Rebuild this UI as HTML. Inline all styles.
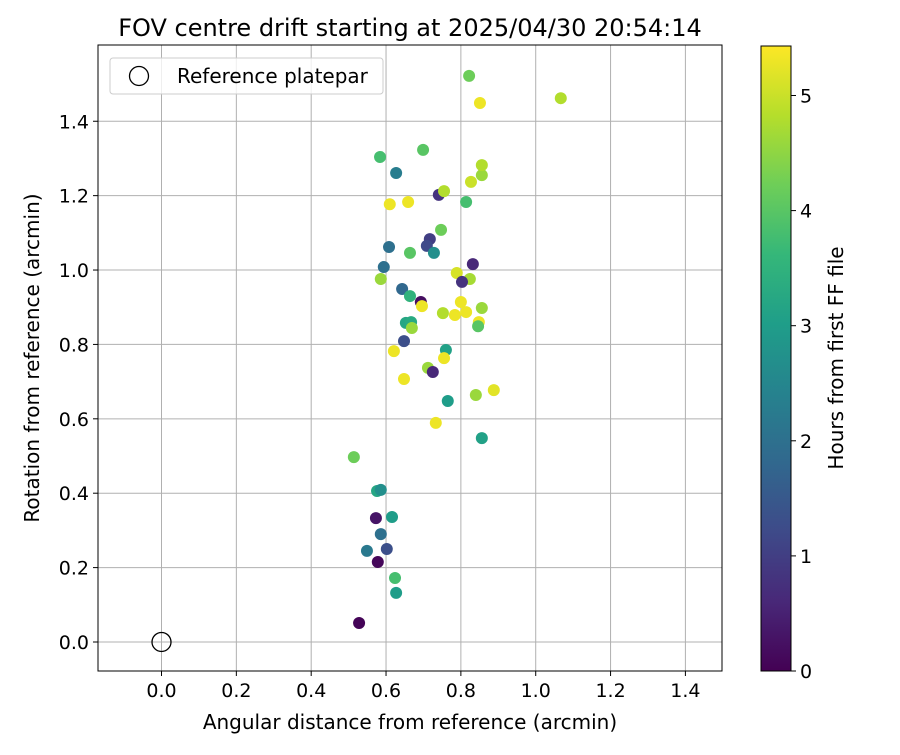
<!DOCTYPE html>
<html><head><meta charset="utf-8">
<style>
body{margin:0;background:#fff;font-family:"Liberation Sans","DejaVu Sans",sans-serif;}
svg text{font-family:"DejaVu Sans","Liberation Sans",sans-serif;}
</style></head>
<body>
<svg id="chart" width="900" height="750" xmlns="http://www.w3.org/2000/svg"></svg>
<script>
const xVals=[0.822,1.067,0.851,0.584,0.699,0.627,0.856,0.856,0.827,0.741,0.755,0.659,0.610,0.814,0.747,0.717,0.709,0.608,0.728,0.664,0.594,0.832,0.789,0.824,0.803,0.586,0.643,0.664,0.693,0.696,0.800,0.752,0.856,0.814,0.784,0.848,0.846,0.653,0.667,0.669,0.648,0.621,0.760,0.755,0.712,0.725,0.648,0.840,0.888,0.765,0.733,0.856,0.514,0.576,0.586,0.616,0.573,0.586,0.549,0.602,0.578,0.624,0.627,0.528];
const yVals=[1.522,1.462,1.449,1.304,1.323,1.261,1.255,1.282,1.237,1.202,1.212,1.183,1.177,1.183,1.108,1.083,1.065,1.062,1.046,1.046,1.008,1.016,0.992,0.976,0.968,0.976,0.949,0.930,0.914,0.903,0.914,0.884,0.898,0.887,0.879,0.860,0.849,0.858,0.860,0.844,0.809,0.782,0.785,0.763,0.737,0.726,0.707,0.664,0.677,0.648,0.589,0.548,0.497,0.406,0.409,0.336,0.333,0.290,0.245,0.250,0.215,0.172,0.132,0.051];
const hours=[4.2,4.8,5.3,3.8,4.0,2.3,4.6,4.8,5.0,0.8,4.8,5.3,5.3,3.8,4.2,1.0,1.2,2.0,2.7,4.0,2.0,0.6,5.1,4.7,0.8,4.6,1.8,3.5,0.2,5.3,5.3,4.8,4.6,5.3,5.3,5.3,4.0,3.2,3.3,4.6,1.3,5.3,3.1,5.3,4.6,0.6,5.3,4.6,5.2,3.0,5.3,3.1,4.2,3.2,2.7,3.0,0.3,2.0,2.2,1.3,0.1,3.8,3.0,0.05];
const xTicks=[0,0.2,0.4,0.6,0.8,1.0,1.2,1.4];
const yTicks=[0,0.2,0.4,0.6,0.8,1.0,1.2,1.4];
const cbTicks=[0,1,2,3,4,5];
const hMax=5.43;
const L=98,R=722,T=45,B=671;
const xMin=-0.1697,xMax=1.4978,yMin=-0.078,yMax=1.605;
const sx=v=>L+(v-xMin)/(xMax-xMin)*(R-L);
const sy=v=>B-(v-yMin)/(yMax-yMin)*(B-T);
const vir=[[68,1,84],[72,40,120],[62,74,137],[49,104,142],[38,130,142],[31,158,137],[53,183,121],[110,206,88],[181,222,43],[253,231,37]];
function cmap(t){t=Math.max(0,Math.min(1,t));const p=t*(vir.length-1),i=Math.min(Math.floor(p),vir.length-2),f=p-i;const c=vir[i].map((a,k)=>Math.round(a+(vir[i+1][k]-a)*f));return `rgb(${c})`;}
const svg=document.getElementById('chart');const NS='http://www.w3.org/2000/svg';
function el(tag,attrs,parent,txt){const e=document.createElementNS(NS,tag);for(const k in attrs)e.setAttribute(k,attrs[k]);if(txt!==undefined)e.textContent=txt;(parent||svg).appendChild(e);return e;}
let e;
e=el('text',{x:410,y:36,'font-size':'24','text-anchor':'middle',fill:'#000'},svg,'FOV centre drift starting at 2025/04/30 20:54:14');


const grid=el('g',{});


xTicks.forEach(v=>{const x=sx(v);
el('line',{x1:x,x2:x,y1:T,y2:B,stroke:'#b0b0b0','stroke-width':1},grid);
el('line',{x1:x,x2:x,y1:B,y2:B+5,stroke:'#000'},svg);
e=el('text',{x:x,y:B+26,'font-size':'19','text-anchor':'middle'},svg,v.toFixed(1));

});
yTicks.forEach(v=>{const y=sy(v);
el('line',{x1:L,x2:R,y1:y,y2:y,stroke:'#b0b0b0','stroke-width':1},grid);
el('line',{x1:L-5,x2:L,y1:y,y2:y,stroke:'#000'},svg);
e=el('text',{x:L-9,y:y+7,'font-size':'19','text-anchor':'end'},svg,v.toFixed(1));

});
const pts=el('g',{});


xVals.forEach((v,i)=>{const c=el('circle',{cx:sx(v),cy:sy(yVals[i]),r:6,fill:cmap(hours[i]/hMax)},pts);

});
e=el('circle',{cx:sx(0),cy:sy(0),r:9.5,fill:'none',stroke:'#000','stroke-width':1.3},svg);


e=el('rect',{x:L,y:T,width:R-L,height:B-T,fill:'none',stroke:'#000','stroke-width':1},svg);


const leg=el('g',{});


el('rect',{x:110,y:58,width:273,height:36,rx:3,fill:'#fff','fill-opacity':0.8,stroke:'#ccc'},leg);
el('circle',{cx:139,cy:76,r:9.5,fill:'none',stroke:'#000','stroke-width':1.3},leg);
el('text',{x:177,y:83,'font-size':'20'},leg,'Reference platepar');
e=el('text',{x:410,y:729,'font-size':'20','text-anchor':'middle'},svg,'Angular distance from reference (arcmin)');


e=el('text',{x:0,y:0,'font-size':'20','text-anchor':'middle',transform:'translate(39,358) rotate(-90)'},svg,'Rotation from reference (arcmin)');


const cbL=761,cbR=791,cbT=46,cbB=671;
const defs=el('defs',{});const gr=el('linearGradient',{id:'vg',x1:0,y1:1,x2:0,y2:0},defs);
vir.forEach((c,i)=>el('stop',{offset:i/(vir.length-1),'stop-color':`rgb(${c})`},gr));
e=el('rect',{x:cbL,y:cbT,width:cbR-cbL,height:cbB-cbT,fill:'url(#vg)',stroke:'#000','stroke-width':1},svg);


cbTicks.forEach(v=>{const y=cbB-v/hMax*(cbB-cbT);
el('line',{x1:cbR,x2:cbR+5,y1:y,y2:y,stroke:'#000'},svg);
e=el('text',{x:cbR+9,y:y+7,'font-size':'19'},svg,String(v));

});
e=el('text',{x:0,y:0,'font-size':'20','text-anchor':'middle',transform:'translate(843,358) rotate(-90)'},svg,'Hours from first FF file');


</script>
</body></html>
